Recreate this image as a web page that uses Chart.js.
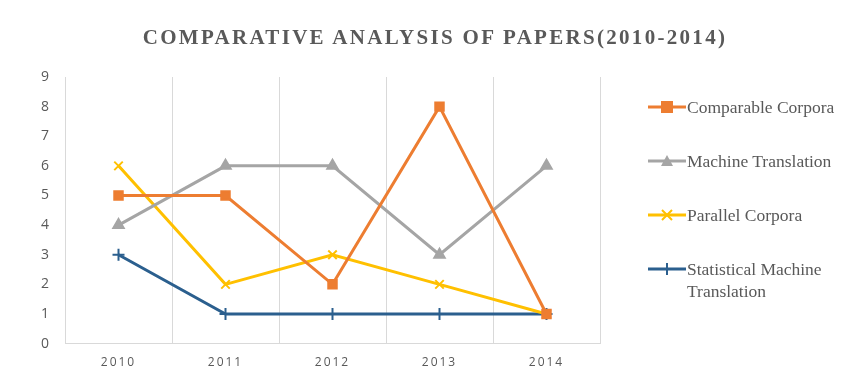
<!DOCTYPE html>
<html>
<head>
<meta charset="utf-8">
<script src="https://cdn.jsdelivr.net/npm/chart.js@4"></script>
<style>
  body { margin: 0; background: #fff; }
  .wrap { position: relative; width: 848px; height: 374px; }
  .title {
    position: absolute; left: 0; top: 25px; width: 870px; text-align: center;
    font: bold 21px "Liberation Serif", "DejaVu Serif", serif; letter-spacing: 2.3px; color: #595959;
  }
  .legend { position: absolute; left: 646px; top: 0; }
  .legend-item { position: absolute; left: 0; width: 202px; display: flex; align-items: flex-start; }
  .legend-item svg { flex: none; margin-top: 1px; }
  .legend-item span {
    margin-left: 1px; font: 17.5px "Liberation Serif", "DejaVu Serif", serif; color: #595959; line-height: 22px;
  }
</style>
</head>
<body>
<div class="wrap">
  <div class="title">COMPARATIVE ANALYSIS OF PAPERS(2010-2014)</div>
  <canvas id="chart" width="848" height="374"></canvas>
  <div class="legend" id="legend"></div>
</div>
<script>
const years = ['2010', '2011', '2012', '2013', '2014'];
const seriesNames = ['Comparable Corpora', 'Machine Translation', 'Parallel Corpora', 'Statistical Machine Translation'];
const comparableCorpora = [5, 5, 2, 8, 1];
const machineTranslation = [4, 6, 6, 3, 6];
const parallelCorpora = [6, 2, 3, 2, 1];
const statisticalMT = [3, 1, 1, 1, 1];
const yTicks = [0, 1, 2, 3, 4, 5, 6, 7, 8, 9];

const colors = ['#ED7D31', '#A5A5A5', '#FFC000', '#2B5F8E'];
const styles = ['rect', 'triangle', 'crossRot', 'cross'];
const values = [comparableCorpora, machineTranslation, parallelCorpora, statisticalMT];

const datasets = seriesNames.map((name, i) => ({
  label: name,
  data: values[i],
  borderColor: colors[i],
  backgroundColor: colors[i],
  borderWidth: 3,
  pointStyle: styles[i],
  pointRadius: 6,
  pointBorderWidth: 2,
  pointBorderColor: colors[i],
  pointBackgroundColor: colors[i],
  tension: 0
}));

new Chart(document.getElementById('chart').getContext('2d'), {
  type: 'line',
  data: { labels: years, datasets },
  options: {
    responsive: false,
    animation: false,
    layout: { padding: { top: 77, right: 248, left: 37, bottom: -8 } },
    plugins: { legend: { display: false }, title: { display: false }, tooltip: { enabled: false } },
    scales: {
      x: {
        offset: true,
        grid: { offset: true, color: '#d9d9d9', lineWidth: 1, drawTicks: false },
        border: { color: '#d9d9d9' },
        ticks: { color: '#595959', padding: 12, font: { family: 'Open Sans', size: 12 } }
      },
      y: {
        min: 0, max: 9,
        afterBuildTicks: axis => { axis.ticks = yTicks.map(v => ({ value: v })); },
        grid: { display: false },
        border: { color: '#d9d9d9' },
        ticks: { color: '#595959', padding: 6, font: { family: 'Open Sans', size: 14 } }
      }
    }
  },
  plugins: [{
    id: 'spacing',
    beforeDraw: chart => { chart.ctx.letterSpacing = '2px'; }
  }]
});

function markerSvg(style, color) {
  let m = '';
  if (style === 'rect') m = `<rect x="15" y="4" width="12" height="12" fill="${color}"/>`;
  if (style === 'triangle') m = `<polygon points="21,4 27,15 15,15" fill="${color}"/>`;
  if (style === 'crossRot') m = `<path d="M16 5 L26 15 M26 5 L16 15" stroke="${color}" stroke-width="2"/>`;
  if (style === 'cross') m = `<path d="M21 4 L21 16" stroke="${color}" stroke-width="2"/>`;
  return `<svg width="40" height="20"><line x1="2" y1="10" x2="40" y2="10" stroke="${color}" stroke-width="3"/>${m}</svg>`;
}

const legendTops = [96, 150, 204, 258];
const legend = document.getElementById('legend');
seriesNames.forEach((name, i) => {
  const item = document.createElement('div');
  item.className = 'legend-item';
  item.style.top = legendTops[i] + 'px';
  item.innerHTML = markerSvg(styles[i], colors[i]) + `<span>${name}</span>`;
  legend.appendChild(item);
});
</script>
</body>
</html>
